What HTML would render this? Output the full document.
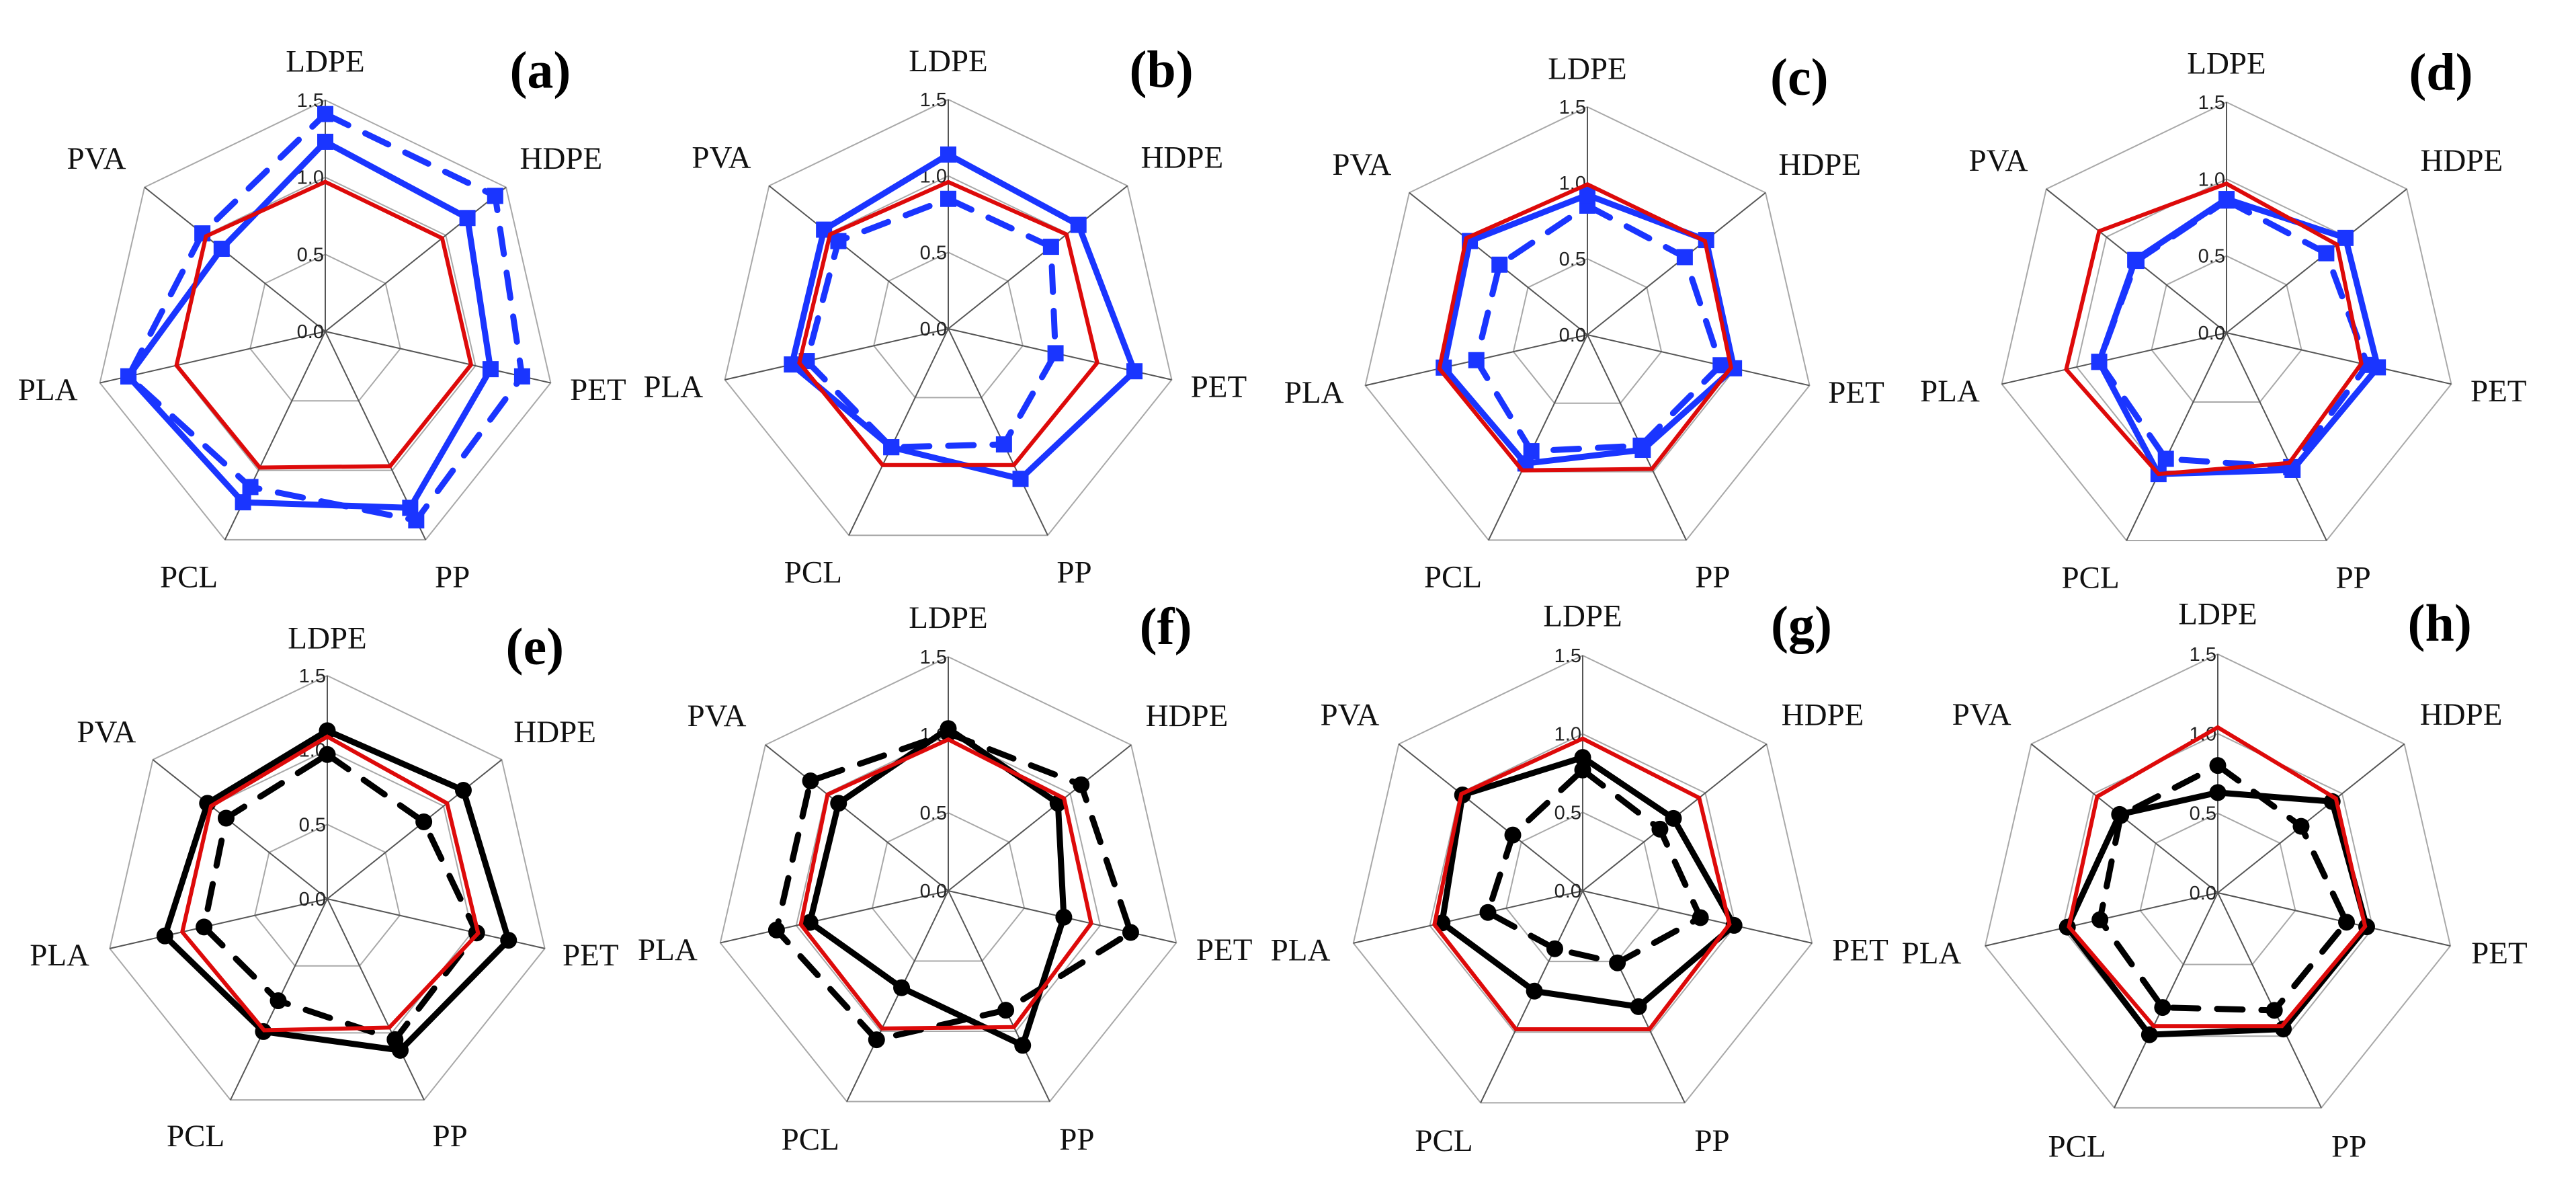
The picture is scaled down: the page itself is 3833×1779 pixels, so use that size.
<!DOCTYPE html>
<html><head><meta charset="utf-8">
<style>
html,body{margin:0;padding:0;background:#fff;}
svg{display:block;}
</style></head>
<body>
<svg id="chart" xmlns="http://www.w3.org/2000/svg" width="3833" height="1779" viewBox="0 0 3833 1779">
<rect width="3833" height="1779" fill="#fff"/>
</svg>
<script>
const axisLabels = ["LDPE","HDPE","PET","PP","PCL","PLA","PVA"];
const tickValues = [0.0, 0.5, 1.0, 1.5];
const tickLabels = ["0.0","0.5","1.0","1.5"];
const panelLetters = ["(a)","(b)","(c)","(d)","(e)","(f)","(g)","(h)"];
const refA = [0.97,0.97,0.97,0.97,0.98,0.99,0.99];
const solidA = [1.23,1.18,1.10,1.27,1.23,1.31,0.86];
const dashA = [1.41,1.41,1.31,1.36,1.12,1.31,1.02];
const refB = [0.96,0.99,1.00,0.99,0.99,1.00,0.99];
const solidB = [1.14,1.09,1.25,1.09,0.86,1.05,1.04];
const dashB = [0.85,0.86,0.72,0.84,0.86,0.95,0.92];
const refC = [0.99,0.99,0.97,0.98,0.99,1.00,1.02];
const solidC = [0.92,1.00,0.99,0.84,0.94,0.97,0.99];
const dashC = [0.85,0.82,0.90,0.81,0.85,0.75,0.74];
const refD = [0.97,0.92,0.90,0.94,1.02,1.07,1.06];
const solidD = [0.87,0.99,1.01,0.99,1.02,0.85,0.76];
const dashD = [0.86,0.83,0.94,0.97,0.91,0.85,0.75];
const refE = [1.09,1.03,1.04,0.96,0.98,1.00,1.00];
const solidE = [1.13,1.17,1.25,1.13,0.99,1.12,1.03];
const dashE = [0.97,0.83,1.03,1.05,0.76,0.85,0.87];
const refF = [0.97,0.95,0.94,0.97,0.98,0.97,0.99];
const solidF = [1.04,0.90,0.76,1.10,0.69,0.91,0.90];
const dashF = [1.01,1.09,1.20,0.85,1.06,1.13,1.13];
const refG = [0.97,0.95,0.96,0.98,0.98,0.97,0.99];
const solidG = [0.85,0.74,0.99,0.82,0.71,0.92,0.98];
const dashG = [0.77,0.63,0.77,0.51,0.41,0.62,0.57];
const refH = [1.04,0.95,0.95,0.93,0.93,0.96,0.97];
const solidH = [0.63,0.92,0.96,0.95,0.99,0.97,0.79];
const dashH = [0.80,0.67,0.83,0.82,0.80,0.76,0.78];

const panelRef = [refA,refB,refC,refD,refE,refF,refG,refH];
const panelSolid = [solidA,solidB,solidC,solidD,solidE,solidF,solidG,solidH];
const panelDash = [dashA,dashB,dashC,dashD,dashE,dashF,dashG,dashH];

const layout = [
 {cx:484,cy:493,R:344},{cx:1411,cy:489,R:341},{cx:2362,cy:498,R:339},{cx:3313,cy:495,R:343},
 {cx:487,cy:1337,R:332},{cx:1411,cy:1325,R:348},{cx:2355,cy:1325,R:350},{cx:3300,cy:1328,R:355}
];
const NS="http://www.w3.org/2000/svg";
const svg=document.getElementById('chart');
function mk(tag,attrs,parent){const e=document.createElementNS(NS,tag);for(const k in attrs)e.setAttribute(k,attrs[k]);(parent||svg).appendChild(e);return e;}
const N=axisLabels.length;
function ang(i){return i*2*Math.PI/N;}
const labelOff=[[0,-1.17],[1.02,-0.75],[1.18,0.25],[0.55,1.06],[-0.59,1.06],[-1.2,0.25],[-0.99,-0.75]];

layout.forEach((L,p)=>{
  const blue = p<4;
  const col = blue ? "#1a35ff" : "#000";
  const g=mk('g',{});
  
  
  const rScale=v=>v/1.5*L.R;
  const pt=(i,v)=>[L.cx+rScale(v)*Math.sin(ang(i)), L.cy-rScale(v)*Math.cos(ang(i))];
  tickValues.slice(1).forEach(t=>{
    const pts=axisLabels.map((_,i)=>pt(i,t).join(',')).join(' ');
    const r=mk('polygon',{points:pts,fill:'none',stroke:'#a8a8a8','stroke-width':2},g);
    
    
  });
  axisLabels.forEach((_,i)=>{
    const e=pt(i,1.5);
    const s=mk('line',{x1:L.cx,y1:L.cy,x2:e[0],y2:e[1],stroke:'#555','stroke-width':2},g);
    
    
  });
  tickValues.forEach((t,k)=>{
    const tx=mk('text',{x:L.cx-2,y:L.cy-rScale(t)+10,'text-anchor':'end','font-family':'Liberation Sans, sans-serif','font-size':29,fill:'#222'},g);
    tx.textContent=tickLabels[k];
    
    
  });
  axisLabels.forEach((lab,i)=>{
    const t=mk('text',{x:L.cx+labelOff[i][0]*L.R,y:L.cy+labelOff[i][1]*L.R+16,'text-anchor':'middle','font-family':'Liberation Serif, serif','font-size':47,fill:'#111'},g);
    t.textContent=lab;
    
    
  });
  const pl=mk('text',{x:L.cx+0.93*L.R,y:L.cy-1.13*L.R+26,'text-anchor':'middle','font-family':'Liberation Serif, serif','font-size':78,'font-weight':'bold',fill:'#000'},g);
  pl.textContent=panelLetters[p];
  
  
  const drawSeries=(vals,dashed,name)=>{
    const pts=vals.map((v,i)=>pt(i,v).join(',')).join(' ');
    const pg=mk('polygon',{points:pts,fill:'none',stroke:col,'stroke-width':9,'stroke-linejoin':'round','stroke-linecap':'round'},g);
    if(dashed) pg.setAttribute('stroke-dasharray','38 28');
    
    
    vals.forEach((v,i)=>{
      const [x,y]=pt(i,v);
      let m;
      if(blue) m=mk('rect',{x:x-12,y:y-12,width:24,height:24,fill:col},g);
      else m=mk('circle',{cx:x,cy:y,r:12.5,fill:col},g);
      
      
    });
  };
  drawSeries(panelDash[p],true,'dashed-series');
  drawSeries(panelSolid[p],false,'solid-series');
  const refPts=panelRef[p].map((v,i)=>pt(i,v).join(',')).join(' ');
  const rp=mk('polygon',{points:refPts,fill:'none',stroke:'#dd0a0a','stroke-width':6,'stroke-linejoin':'miter'},g);
  
  
});
</script>
</body></html>
